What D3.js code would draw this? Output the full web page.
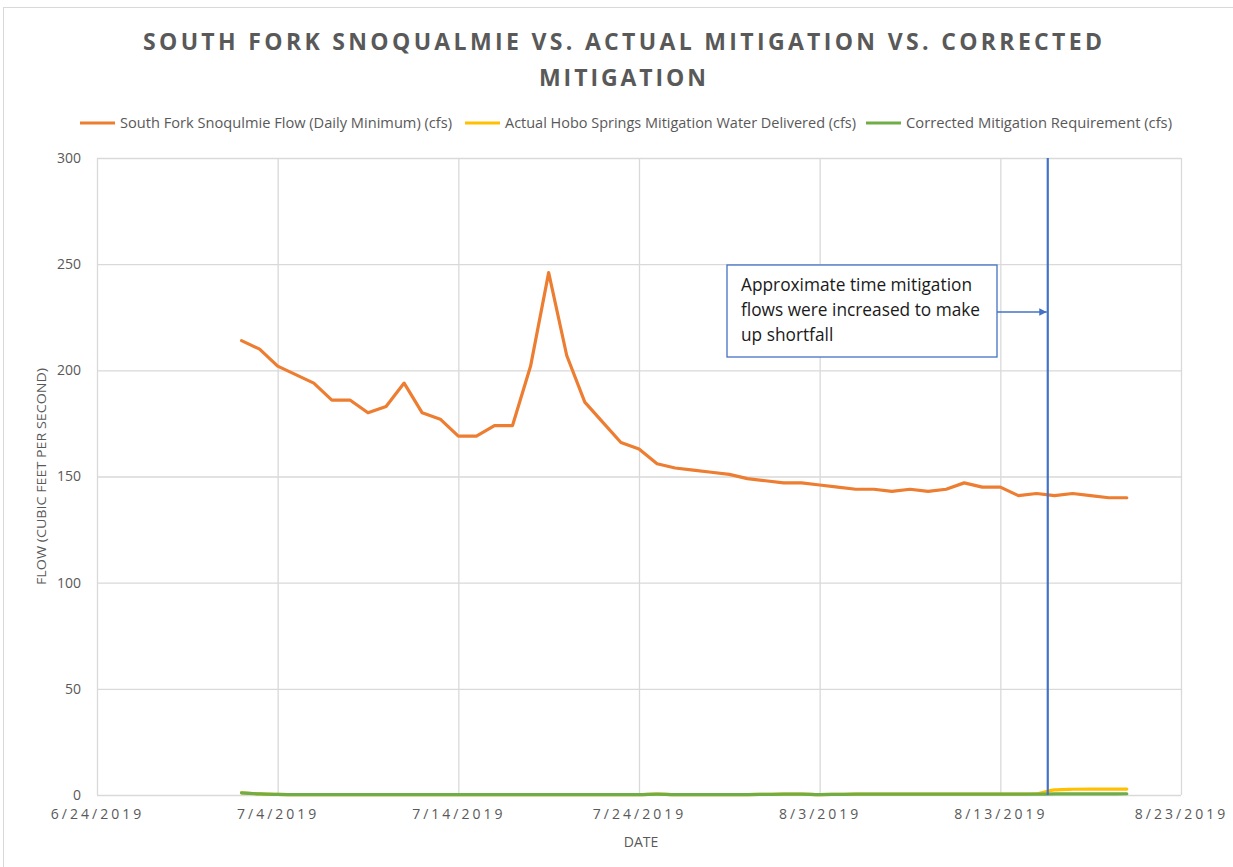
<!DOCTYPE html>
<html>
<head>
<meta charset="utf-8">
<script src="https://cdn.jsdelivr.net/npm/d3@7"></script>
<style>
  body { margin: 0; background: #fff; }
  svg { display: block; }
</style>
</head>
<body>
<div id="chart"></div>
<script>
// daily values, 7/2/2019 .. 8/20/2019
const dates = [
  "2019-07-02","2019-07-03","2019-07-04","2019-07-05","2019-07-06","2019-07-07","2019-07-08","2019-07-09","2019-07-10","2019-07-11",
  "2019-07-12","2019-07-13","2019-07-14","2019-07-15","2019-07-16","2019-07-17","2019-07-18","2019-07-19","2019-07-20","2019-07-21",
  "2019-07-22","2019-07-23","2019-07-24","2019-07-25","2019-07-26","2019-07-27","2019-07-28","2019-07-29","2019-07-30","2019-07-31",
  "2019-08-01","2019-08-02","2019-08-03","2019-08-04","2019-08-05","2019-08-06","2019-08-07","2019-08-08","2019-08-09","2019-08-10",
  "2019-08-11","2019-08-12","2019-08-13","2019-08-14","2019-08-15","2019-08-16","2019-08-17","2019-08-18","2019-08-19","2019-08-20"
];
const riverFlow = [
  214,210,202,198,194,186,186,180,183,194,
  180,177,169,169,174,174,202,246,207,185,
  175.5,166,163,156,154,153,152,151,149,148,
  147,147,146,145,144,144,143,144,143,144,
  147,145,145,141,142,141,142,141,140,140
];
const actualMitigation = [
  1.0,0.5,0.3,0.2,0.2,0.2,0.2,0.2,0.2,0.2,
  0.2,0.2,0.2,0.2,0.2,0.2,0.2,0.2,0.2,0.2,
  0.2,0.2,0.2,0.4,0.2,0.2,0.2,0.2,0.2,0.3,
  0.4,0.4,0.2,0.3,0.4,0.4,0.4,0.4,0.4,0.4,
  0.4,0.4,0.4,0.4,0.6,2.4,2.7,2.8,2.8,2.8
];
const correctedMitigation = [
  1.0,0.5,0.3,0.2,0.2,0.2,0.2,0.2,0.2,0.2,
  0.2,0.2,0.2,0.2,0.2,0.2,0.2,0.2,0.2,0.2,
  0.2,0.2,0.2,0.4,0.2,0.2,0.2,0.2,0.2,0.3,
  0.4,0.4,0.2,0.3,0.4,0.4,0.4,0.4,0.4,0.4,
  0.4,0.4,0.4,0.4,0.4,0.5,0.5,0.5,0.5,0.6
];
const seriesNames = [
  "South Fork Snoqulmie Flow (Daily Minimum) (cfs)",
  "Actual Hobo Springs Mitigation Water Delivered (cfs)",
  "Corrected Mitigation Requirement (cfs)"
];
const seriesColors = ["#ED7D31", "#FFC000", "#70AD47"];
const xTickLabels = ["6/24/2019","7/4/2019","7/14/2019","7/24/2019","8/3/2019","8/13/2019","8/23/2019"];
const yTicks = [0, 50, 100, 150, 200, 250, 300];
const increaseTime = "2019-08-15T15:00";
const noteLines = ["Approximate time mitigation", "flows were increased to make", "up shortfall"];

const width = 1233, height = 867;
const margin = { top: 158, right: 52, bottom: 72, left: 97 };
const parse = d3.timeParse("%Y-%m-%d");
const parseTick = d3.timeParse("%m/%d/%Y");
const font = "'Open Sans', sans-serif";

const svg = d3.select("#chart").append("svg")
  .attr("width", width).attr("height", height);

// chart frame
svg.append("rect")
  .attr("x", 3.5).attr("y", 7.5).attr("width", width + 10).attr("height", height + 10)
  .attr("fill", "none").attr("stroke", "#d9d9d9");

const x = d3.scaleTime()
  .domain([parseTick("6/24/2019"), parseTick("8/23/2019")])
  .range([margin.left, width - margin.right]);
const y = d3.scaleLinear().domain([0, 300]).range([height - margin.bottom, margin.top]);

// gridlines
svg.append("g")
  .attr("transform", "translate(" + margin.left + ",0)")
  .call(d3.axisLeft(y).tickValues(yTicks).tickSize(-(width - margin.right - margin.left)).tickFormat(""))
  .call(g => g.select(".domain").remove())
  .call(g => g.selectAll("line").attr("stroke", "#d9d9d9").attr("stroke-width", 1.3));

svg.append("g")
  .attr("transform", "translate(0," + margin.top + ")")
  .call(d3.axisBottom(x).tickValues(xTickLabels.map(parseTick)).tickSize(height - margin.bottom - margin.top).tickFormat(""))
  .call(g => g.select(".domain").remove())
  .call(g => g.selectAll("line").attr("stroke", "#d9d9d9").attr("stroke-width", 1.3));

// y labels
svg.append("g")
  .attr("transform", "translate(" + margin.left + ",0)")
  .call(d3.axisLeft(y).tickValues(yTicks).tickSize(0).tickPadding(16))
  .call(g => g.select(".domain").remove())
  .call(g => g.selectAll("text")
    .attr("fill", "#595959").style("font-family", font).style("font-size", "14px"));

// x labels
svg.append("g")
  .attr("transform", "translate(0," + (height - margin.bottom) + ")")
  .call(d3.axisBottom(x).tickValues(xTickLabels.map(parseTick)).tickSize(0).tickPadding(14)
    .tickFormat((d, i) => xTickLabels[i]))
  .call(g => g.select(".domain").remove())
  .call(g => g.selectAll("text")
    .attr("fill", "#595959").style("font-family", font)
    .style("font-size", "14px").style("letter-spacing", "3px"));

// axis titles
svg.append("text")
  .attr("x", (margin.left + width - margin.right) / 2 + 2).attr("y", 847)
  .attr("text-anchor", "middle").attr("fill", "#595959")
  .style("font-family", font).style("font-size", "14px")
  .text("DATE");

svg.append("text")
  .attr("transform", "translate(46," + (y(150)) + ") rotate(-90)")
  .attr("text-anchor", "middle").attr("fill", "#595959")
  .attr("textLength", 217).attr("lengthAdjust", "spacingAndGlyphs")
  .style("font-family", font).style("font-size", "13px")
  .text("FLOW (CUBIC FEET PER SECOND)");

// lines
const rows = dates.map((d, i) => ({
  date: parse(d), flow: riverFlow[i], actual: actualMitigation[i], corrected: correctedMitigation[i]
}));
const keys = ["flow", "actual", "corrected"];
keys.forEach((k, i) => {
  svg.append("path")
    .datum(rows)
    .attr("fill", "none")
    .attr("stroke", seriesColors[i])
    .attr("stroke-width", 3.2)
    .attr("stroke-linejoin", "round")
    .attr("stroke-linecap", "round")
    .attr("d", d3.line()
      .curve(i === 0 ? d3.curveLinear : d3.curveMonotoneX)
      .x(d => x(d.date)).y(d => y(d[k])));
});

// vertical marker
const tMark = d3.isoParse(increaseTime);
svg.append("line")
  .attr("x1", x(tMark)).attr("x2", x(tMark))
  .attr("y1", y(300)).attr("y2", y(0))
  .attr("stroke", "#4472C4").attr("stroke-width", 2.2);

// annotation box
const box = { x: 727, y: 265, w: 270, h: 92 };
svg.append("rect")
  .attr("x", box.x).attr("y", box.y).attr("width", box.w).attr("height", box.h)
  .attr("fill", "#fff").attr("stroke", "#4472C4").attr("stroke-width", 1.3);
svg.append("g").selectAll("text").data(noteLines).enter().append("text")
  .attr("x", box.x + 14).attr("y", (d, i) => box.y + 26 + i * 25)
  .attr("fill", "#1a1a1a")
  .style("font-family", font).style("font-size", "17.3px")
  .text(d => d);

svg.append("defs").append("marker")
  .attr("id", "arrow").attr("viewBox", "0 0 10 10").attr("refX", 10).attr("refY", 5)
  .attr("markerWidth", 5).attr("markerHeight", 5).attr("orient", "auto")
  .append("path").attr("d", "M0,0L10,5L0,10Z").attr("fill", "#4472C4");
svg.append("line")
  .attr("x1", box.x + box.w).attr("x2", x(tMark) - 1)
  .attr("y1", 312).attr("y2", 312)
  .attr("stroke", "#4472C4").attr("stroke-width", 1.5)
  .attr("marker-end", "url(#arrow)");

// title
svg.append("text")
  .attr("x", 143).attr("y", 50)
  .attr("textLength", 959).attr("lengthAdjust", "spacing")
  .attr("fill", "#595959").style("font-family", font)
  .style("font-size", "23px").style("font-weight", "bold")
  .text("SOUTH FORK SNOQUALMIE VS. ACTUAL MITIGATION VS. CORRECTED");
svg.append("text")
  .attr("x", 539).attr("y", 86)
  .attr("textLength", 167).attr("lengthAdjust", "spacing")
  .attr("fill", "#595959").style("font-family", font)
  .style("font-size", "23px").style("font-weight", "bold")
  .text("MITIGATION");

// legend
const legendX = [80, 465, 866];
const legendW = [332, 351, 266];
const legend = svg.append("g").selectAll("g").data(seriesNames).enter().append("g")
  .attr("transform", (d, i) => "translate(" + legendX[i] + ",123)");
legend.append("line")
  .attr("x1", 0).attr("x2", 35).attr("y1", 0).attr("y2", 0)
  .attr("stroke", (d, i) => seriesColors[i]).attr("stroke-width", 3.2);
legend.append("text")
  .attr("x", 40).attr("y", 5)
  .attr("textLength", (d, i) => legendW[i]).attr("lengthAdjust", "spacingAndGlyphs")
  .attr("fill", "#595959")
  .style("font-family", font).style("font-size", "14.5px")
  .text(d => d);
</script>
</body>
</html>
